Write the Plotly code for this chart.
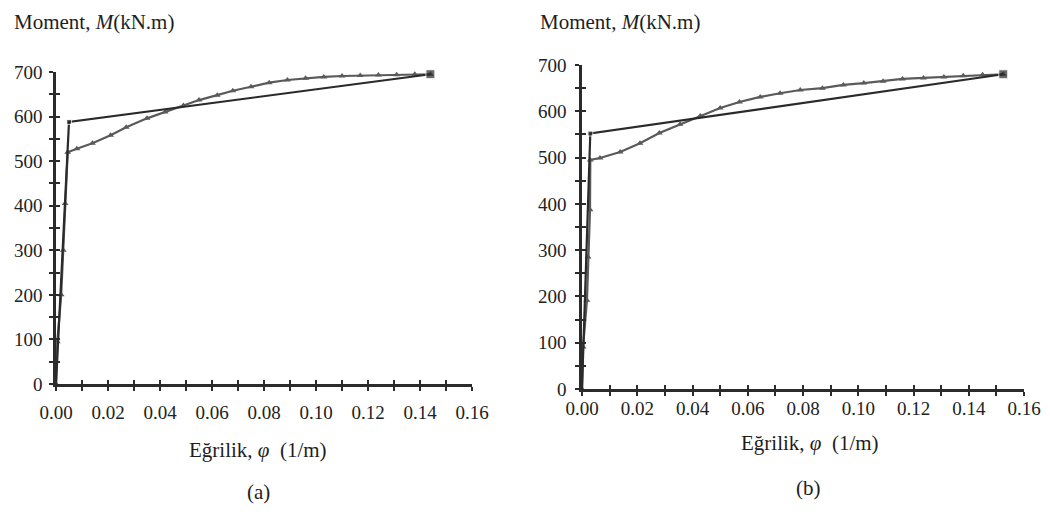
import plotly.graph_objects as go

# ---- Section (a): moment-curvature response and bilinear idealisation ----
phi_a = [0, 0.0005, 0.0020, 0.0028, 0.0035, 0.0045, 0.0080, 0.0140, 0.0210, 0.0270,
         0.0350, 0.0420, 0.0490, 0.0550, 0.0620, 0.0680, 0.0750, 0.0820, 0.0890,
         0.0960, 0.1030, 0.1100, 0.1170, 0.1240, 0.1310, 0.1380, 0.1440]
m_a = [0, 95, 200, 300, 405, 520, 528, 540, 558, 576,
       596, 610, 625, 637, 648, 658, 667, 676, 682,
       686, 689, 691, 692, 693, 694, 695, 695]
phi_a_bi = [0, 0.0050, 0.1440]
m_a_bi = [0, 588, 695]

# ---- Section (b) ----
phi_b = [0, 0.0004, 0.0018, 0.0022, 0.0029, 0.0030, 0.0065, 0.0138, 0.0210, 0.0280,
         0.0355, 0.0428, 0.0500, 0.0570, 0.0645, 0.0717, 0.0790, 0.0870, 0.0946,
         0.1020, 0.1090, 0.1160, 0.1236, 0.1310, 0.1380, 0.1450, 0.1525]
m_b = [0, 91, 192, 285, 387, 495, 499, 512, 531, 553,
       572, 590, 607, 620, 631, 639, 646, 650, 657,
       661, 665, 670, 672, 674, 677, 679, 680]
phi_b_bi = [0, 0.0030, 0.1525]
m_b_bi = [0, 552, 680]

# ---- Axis ticks ----
x_tickvals = [i / 100 for i in range(0, 17)]
x_ticktext = [f"{v:.2f}" if i % 2 == 0 else "" for i, v in enumerate(x_tickvals)]
y_tickvals = list(range(0, 701, 50))
y_ticktext = [str(v) if v % 100 == 0 else "" for v in y_tickvals]

SERIF = "Liberation Serif, Times New Roman, serif"
AXIS_COLOR = "#2b2b2b"
CURVE_COLOR = "#5a5a5a"
BILIN_COLOR = "#2a2a2a"

fig = go.Figure()


def add_panel(phi, m, phi_bi, m_bi, xa, ya):
    fig.add_trace(go.Scatter(
        x=phi, y=m, xaxis=xa, yaxis=ya, mode="lines+markers",
        line=dict(color=CURVE_COLOR, width=2.2),
        marker=dict(symbol="triangle-up", size=6, color=CURVE_COLOR),
        cliponaxis=False, showlegend=False, hoverinfo="skip"))
    fig.add_trace(go.Scatter(
        x=phi_bi, y=m_bi, xaxis=xa, yaxis=ya, mode="lines+markers",
        line=dict(color=BILIN_COLOR, width=2.2),
        marker=dict(symbol="square", size=[0, 5, 9], color=BILIN_COLOR),
        cliponaxis=False, showlegend=False, hoverinfo="skip"))


add_panel(phi_a, m_a, phi_a_bi, m_a_bi, "x", "y")
add_panel(phi_b, m_b, phi_b_bi, m_b_bi, "x2", "y2")

# empty traces so the inner-tick overlay axes get drawn
for xa, ya in (("x3", "y3"), ("x4", "y4")):
    fig.add_trace(go.Scatter(x=[None], y=[None], xaxis=xa, yaxis=ya,
                             showlegend=False, hoverinfo="skip"))

tick_font = dict(family=SERIF, size=19, color="#222222")


def x_axis(domain, anchor, labels=True, overlay=None, standoff=0):
    d = dict(range=[0, 0.16], showgrid=False, zeroline=False, automargin=False,
             tickmode="array", tickvals=x_tickvals,
             ticklen=4, tickwidth=1.5, tickcolor=AXIS_COLOR,
             fixedrange=True)
    if labels:
        d.update(domain=domain, anchor=anchor, ticktext=x_ticktext, ticks="outside",
                 showline=True, linecolor=AXIS_COLOR, linewidth=2.5,
                 tickfont=tick_font, ticklabelstandoff=standoff)
    else:
        d.update(overlaying=overlay, anchor=anchor, ticks="inside",
                 showticklabels=False, showline=False)
    return d


def y_axis(domain, anchor, labels=True, overlay=None, standoff=0):
    d = dict(range=[0, 700], showgrid=False, zeroline=False, automargin=False,
             tickmode="array", tickvals=y_tickvals,
             ticklen=4, tickwidth=1.5, tickcolor=AXIS_COLOR,
             fixedrange=True)
    if labels:
        d.update(domain=domain, anchor=anchor, ticktext=y_ticktext, ticks="outside",
                 showline=True, linecolor=AXIS_COLOR, linewidth=2.5,
                 tickfont=tick_font, ticklabelstandoff=standoff)
    else:
        d.update(overlaying=overlay, anchor=anchor, ticks="inside",
                 showticklabels=False, showline=False)
    return d


W, H = 1050, 518
dom_xa = [56 / W, 472 / W]
dom_ya = [1 - 384 / H, 1 - 72 / H]
dom_xb = [582 / W, 1024 / W]
dom_yb = [1 - 389 / H, 1 - 65 / H]

fig.update_layout(
    template="none",
    width=W, height=H,
    margin=dict(l=0, r=0, t=0, b=0, autoexpand=False),
    paper_bgcolor="white", plot_bgcolor="rgba(0,0,0,0)",
    xaxis=x_axis(dom_xa, "y", standoff=5),
    yaxis=y_axis(dom_ya, "x", standoff=3),
    xaxis2=x_axis(dom_xb, "y2", standoff=-4),
    yaxis2=y_axis(dom_yb, "x2", standoff=5),
    xaxis3=x_axis(None, "y", labels=False, overlay="x"),
    yaxis3=y_axis(None, "x", labels=False, overlay="y"),
    xaxis4=x_axis(None, "y2", labels=False, overlay="x2"),
    yaxis4=y_axis(None, "x2", labels=False, overlay="y2"),
)

label_font = dict(family=SERIF, size=21, color="#1e1e1e")
texts = [
    ("Moment, <i>M</i>(kN.m)", 12, 22, "left"),
    ("Eğrilik, <i>φ</i>  (1/m)", 258, 450, "center"),
    ("(a)", 258, 492, "center"),
    ("Moment, <i>M</i>(kN.m)", 538, 22, "left"),
    ("Eğrilik, <i>φ</i>  (1/m)", 810, 443, "center"),
    ("(b)", 808, 488, "center"),
]
for txt, px, py, anchor in texts:
    fig.add_annotation(text=txt, x=px / W, y=1 - py / H, xref="paper", yref="paper",
                       xanchor=anchor, yanchor="middle", showarrow=False,
                       font=label_font)

fig.write_html("out.html")
